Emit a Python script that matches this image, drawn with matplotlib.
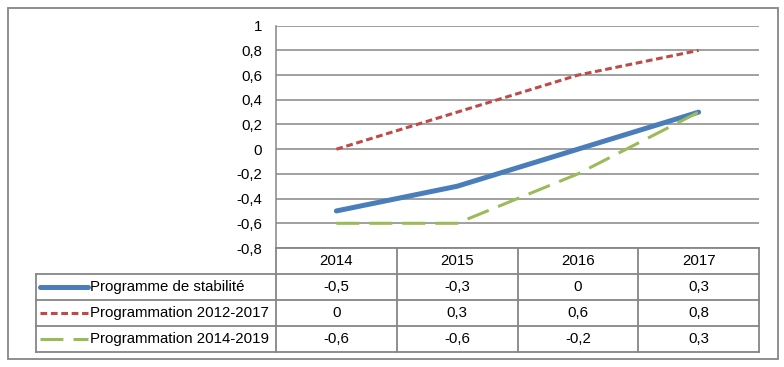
import numpy as np
import matplotlib
matplotlib.use("Agg")
import matplotlib.pyplot as plt
from matplotlib.patches import Rectangle

years = ["2014", "2015", "2016", "2017"]
stabilite = [-0.5, -0.3, 0.0, 0.3]
prog_2012 = [0.0, 0.3, 0.6, 0.8]
prog_2014 = [-0.6, -0.6, -0.2, 0.3]
series_names = ["Programme de stabilité", "Programmation 2012-2017", "Programmation 2014-2019"]
yticks = [-0.8, -0.6, -0.4, -0.2, 0, 0.2, 0.4, 0.6, 0.8, 1]

plt.rcParams['font.family'] = ['Liberation Sans', 'DejaVu Sans']
FS = 10.8
GRID = '#868686'

def fr(v):
    v = round(v, 2)
    if v == 0:
        return "0"
    return f"{v:g}".replace('.', ',')

styles = [
    dict(color='#4A7EBB', linewidth=3.6, linestyle='-', solid_capstyle='round'),
    dict(color='#BE4B48', linewidth=2.2, linestyle=(0, (2.2, 1.2))),
    dict(color='#9BBB59', linewidth=2.2, linestyle=(0, (7.5, 3.3))),
]
data = [stabilite, prog_2012, prog_2014]

W, H = 784, 367
fig = plt.figure(figsize=(W / 100, H / 100), dpi=100)

def rect(l, t, r, b):
    return [l / W, 1 - b / H, (r - l) / W, (b - t) / H]

# cadre extérieur
fig.patches.append(Rectangle((8 / W, 1 - 359 / H), 770 / W, 351 / H, transform=fig.transFigure,
                             fill=False, edgecolor=GRID, linewidth=1.3))

# graphique
ax = fig.add_axes(rect(276, 25.7, 759, 248))
x = np.arange(len(years))
for vals, st in zip(data, styles):
    ax.plot(x, vals, **st, zorder=3)
ax.set_xlim(-0.5, 3.5)
ax.set_ylim(-0.8, 1.0)
ax.set_yticks(yticks)
ax.set_yticklabels([fr(v) for v in yticks], fontsize=FS)
ax.set_xticks([])
ax.tick_params(axis='y', length=0, pad=10)
ax.grid(axis='y', color=GRID, linewidth=1.1)
for s in ['top', 'right', 'bottom']:
    ax.spines[s].set_visible(False)
ax.spines['left'].set_color(GRID)
ax.spines['left'].set_linewidth(1.1)

# tableau de données
col_w = (759 - 276) / 4
left_ext = (276 - 36) / col_w
tab = fig.add_axes(rect(36, 248, 759, 352))
tab.set_xlim(-0.5 - left_ext, 3.5)
tab.set_ylim(4, 0)
tab.axis('off')
x0 = -0.5 - left_ext
kw = dict(color=GRID, linewidth=1.3, clip_on=False)
tab.plot([-0.5, 3.5], [0, 0], **kw)
for i in range(5):
    tab.plot([i - 0.5, i - 0.5], [0, 4], **kw)
for r in range(1, 5):
    tab.plot([x0, 3.5], [r, r], **kw)
tab.plot([x0, x0], [1, 4], **kw)
for i, yr in enumerate(years):
    tab.text(i, 0.5, yr, ha='center', va='center', fontsize=FS)
key_l = x0 + 4 / col_w
key_r = x0 + 52 / col_w
for r, (name, vals, st) in enumerate(zip(series_names, data, styles), start=1):
    tab.plot([key_l, key_r], [r + 0.5, r + 0.5], **st, clip_on=False)
    tab.text(x0 + 54 / col_w, r + 0.5, name, ha='left', va='center', fontsize=FS)
    for i, v in enumerate(vals):
        tab.text(i, r + 0.5, fr(v), ha='center', va='center', fontsize=FS)

fig.savefig("out.png", dpi=100)
